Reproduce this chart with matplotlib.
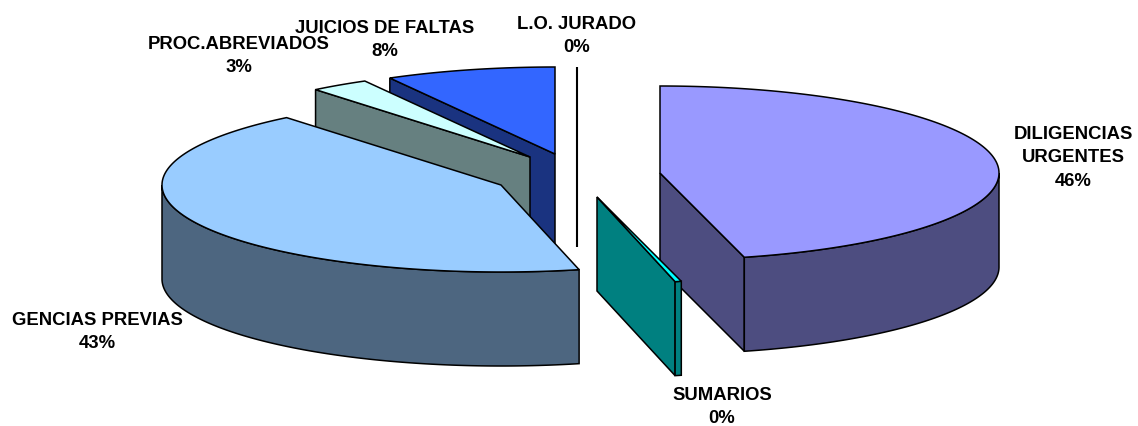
import numpy as np
import matplotlib
matplotlib.use("Agg")
import matplotlib.pyplot as plt
from matplotlib.patches import Polygon

# data
names = ["DILIGENCIAS\nURGENTES", "SUMARIOS", "GENCIAS PREVIAS", "PROC.ABREVIADOS", "JUICIOS DE FALTAS", "L.O. JURADO"]
values = [46.0, 0.3, 42.8, 2.8, 8.1, 0.0]
shown = ["46%", "0%", "43%", "3%", "8%", "0%"]
top_colors = ["#9999FF", "#00FFFF", "#99CCFF", "#CCFFFF", "#3366FF", "#FFFFFF"]

# layout (pixels): apex of each exploded slice, label centres
apex = [(660, 173), (597, 197), (501, 185), (530, 157), (555, 154), (577, 154)]
label_xy = [(1073, 158), (722, 407), (97, 332), (239, 56), (385, 40), (577, 36)]
RX, RY, DEPTH = 339, 87, 94

plt.rcParams["font.family"] = ["Liberation Sans", "DejaVu Sans"]
fig = plt.figure(figsize=(11.38, 4.26), dpi=100)
ax = fig.add_axes([0, 0, 1, 1])
ax.set_xlim(0, 1138)
ax.set_ylim(426, 0)
ax.axis("off")


def shade(color):
    r, g, b = matplotlib.colors.to_rgb(color)
    return (r / 2, g / 2, b / 2)


def point(c, deg):
    t = np.radians(deg)
    return c[0] + RX * np.sin(t), c[1] - RY * np.cos(t)


def arc(c, a, b):
    t = np.radians(np.linspace(a, b, max(int(abs(b - a) * 2), 2)))
    return np.column_stack([c[0] + RX * np.sin(t), c[1] - RY * np.cos(t)])


def poly(pts, color, z):
    ax.add_patch(Polygon(pts, closed=True, facecolor=color, edgecolor="black",
                         linewidth=1.1, joinstyle="miter", zorder=z))


def radial_wall(c, deg, color, z):
    p = point(c, deg)
    poly([c, p, (p[0], p[1] + DEPTH), (c[0], c[1] + DEPTH)], color, z)


edges = np.concatenate([[0], np.cumsum(values)]) * 3.6
draw_order = [4, 5, 3, 2, 0, 1]
for rank, i in enumerate(draw_order):
    a, b = edges[i], edges[i + 1]
    c = apex[i]
    z = 2 + rank
    if values[i] == 0:
        ax.plot([c[0], c[0]], [c[1] - RY, c[1] + DEPTH - 1], color="black", lw=1.5,
                zorder=z, solid_capstyle="butt")
        continue
    side = shade(top_colors[i])
    if 180 < a < 360:
        radial_wall(c, a, side, z)
    if 0 < b < 180:
        radial_wall(c, b, side, z)
    lo, hi = max(a, 90), min(b, 270)
    if lo < hi:
        upper = arc(c, lo, hi)
        lower = upper[::-1] + np.array([0, DEPTH])
        poly(np.vstack([upper, lower]), side, z)
    poly(np.vstack([[c], arc(c, a, b)]), top_colors[i], z + 0.5)

for i in [0, 1, 2, 3, 4, 5]:
    ax.text(label_xy[i][0], label_xy[i][1], names[i] + "\n" + shown[i],
            ha="center", va="center", ma="center", fontsize=13.3, fontweight="bold",
            color="black", linespacing=1.52, zorder=20)

fig.savefig("out.png", dpi=100)
